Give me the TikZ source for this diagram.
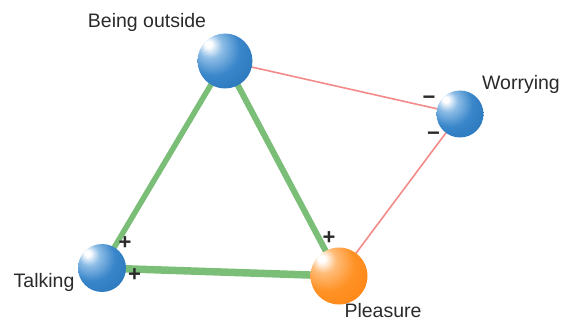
\documentclass[tikz,border=0pt]{standalone}
\usepackage{fontspec}
\setmainfont{Liberation Sans}
\usetikzlibrary{backgrounds}
\definecolor{edgegreen}{HTML}{7BBE78}
\definecolor{edgered}{HTML}{F48A8A}
\definecolor{txt}{HTML}{2A2A2A}
\definecolor{sb1}{HTML}{8DBDE6}
\definecolor{sb2}{HTML}{3A86CA}
\definecolor{sb3}{HTML}{2572B8}
\definecolor{sb4}{HTML}{1A5E9E}
\definecolor{so1}{HTML}{FFBC78}
\definecolor{so2}{HTML}{FF9226}
\definecolor{so3}{HTML}{FF820F}
\definecolor{so4}{HTML}{EC7000}
\pgfdeclareradialshading{bluesphere}{\pgfpoint{-16bp}{16bp}}{color(0bp)=(white); color(3bp)=(white); color(11bp)=(sb1); color(24bp)=(sb2); color(44bp)=(sb3); color(72bp)=(sb4)}
\pgfdeclareradialshading{orangesphere}{\pgfpoint{-16bp}{16bp}}{color(0bp)=(white); color(3bp)=(white); color(11bp)=(so1); color(24bp)=(so2); color(44bp)=(so3); color(72bp)=(so4)}
\tikzset{
  sphere/.style={circle, inner sep=0pt, minimum size=#1},
  bluenode/.style={sphere=#1, shading=bluesphere},
  orangenode/.style={sphere=#1, shading=orangesphere},
  lbl/.style={text=txt, font=\fontsize{19.5}{23}\selectfont, anchor=base, inner sep=0pt},
  sgn/.style={text=txt, font=\fontsize{22}{24}\selectfont\bfseries, inner sep=0pt},
  posedge/.style={draw=edgegreen, line width=#1},
  negedge/.style={draw=edgered, line width=1.6pt},
}
\begin{document}
\begin{tikzpicture}[x=1pt,y=-1pt]
\useasboundingbox (0,0) rectangle (571,321);
% spheres
\node[bluenode=55pt] (B) at (225,61) {};
\node[bluenode=47pt] (W) at (460,114) {};
\node[bluenode=48pt] (T) at (102,268) {};
\node[orangenode=57pt] (P) at (339,276) {};
% edges
\begin{pgfonlayer}{background}
\draw[posedge=5.5pt] (B.center) -- (T.center);
\draw[posedge=6pt] (B.center) -- (P.center);
\draw[posedge=7.5pt] (T.center) -- (P.center);
\draw[negedge] (B.center) -- (W.center);
\draw[negedge] (W.center) -- (P.center);
\end{pgfonlayer}
% labels
\node[lbl] (lB) at (147,28) {Being outside};
\node[lbl] (lW) at (521,90) {Worrying};
\node[lbl] (lT) at (44,287) {Talking};
\node[lbl] (lP) at (383,317) {Pleasure};
% signs
\node[sgn] (s1) at (125,243) {+};
\node[sgn] (s2) at (134.5,275) {+};
\node[sgn] (s3) at (329,238) {+};
\node[sgn] (s4) at (429,100) {−};
\node[sgn] (s5) at (433.5,136) {−};
\end{tikzpicture}
\end{document}
